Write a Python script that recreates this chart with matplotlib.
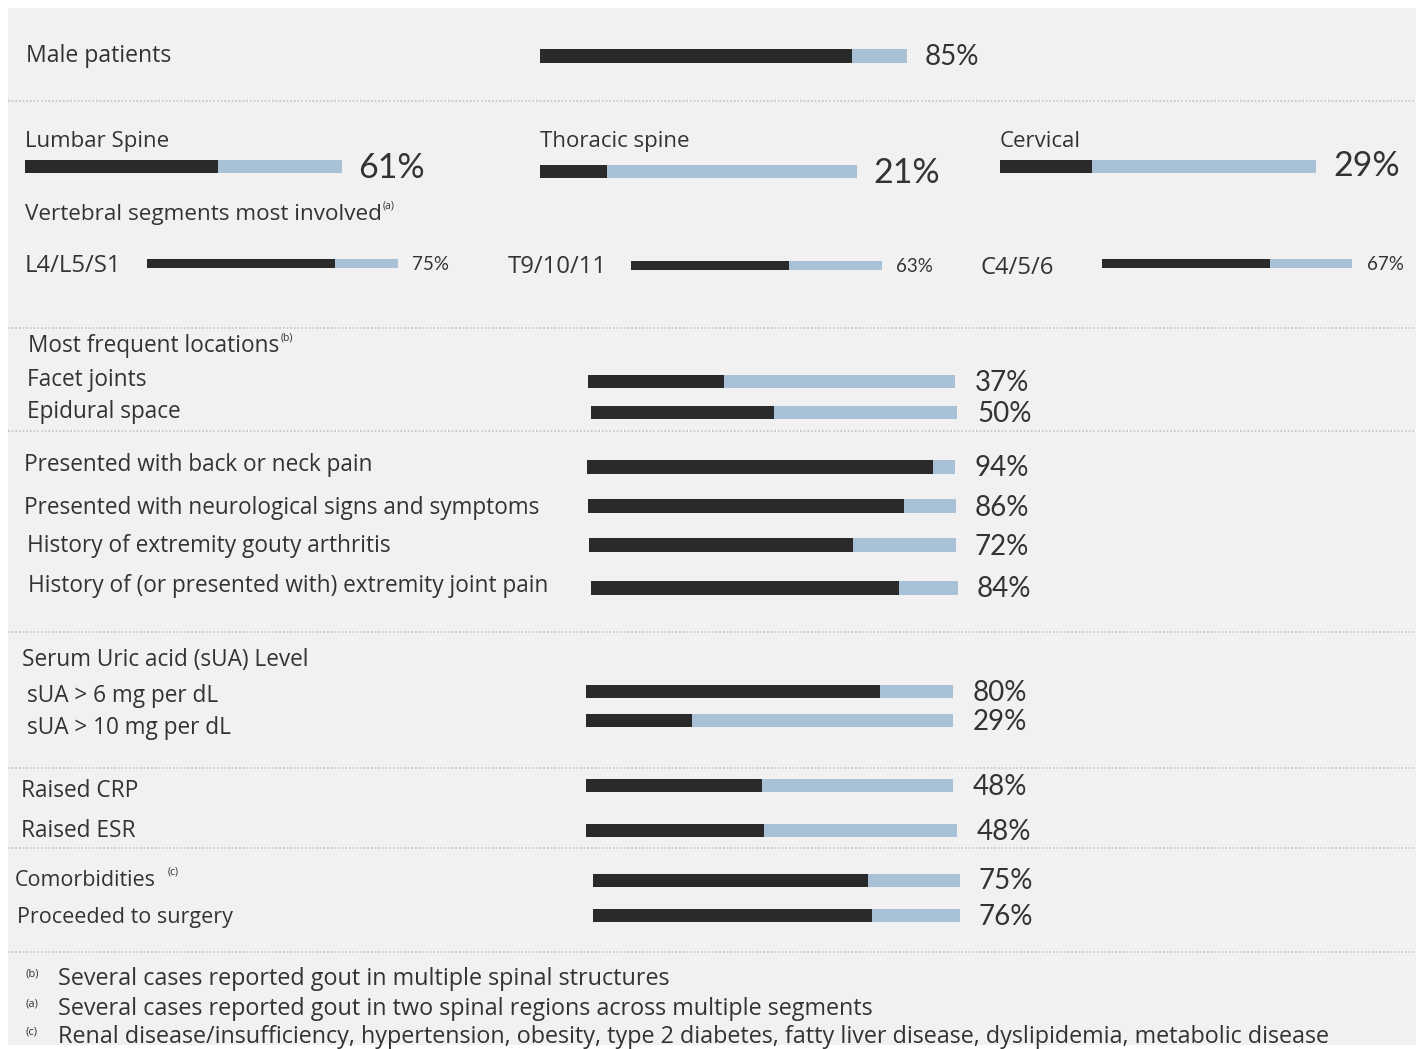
import matplotlib
matplotlib.use("Agg")
import matplotlib.pyplot as plt
from matplotlib.patches import Rectangle

plt.rcParams['font.family'] = ['Open Sans', 'DejaVu Sans']

# ---------------- data ----------------
male_label = "Male patients"
male_value = 85

region_labels = ["Lumbar Spine", "Thoracic spine", "Cervical"]
region_values = [61, 21, 29]

segment_title = "Vertebral segments most involved"
segment_labels = ["L4/L5/S1", "T9/10/11", "C4/5/6"]
segment_values = [75, 63, 67]

location_title = "Most frequent locations"
location_labels = ["Facet joints", "Epidural space"]
location_values = [37, 50]

presentation_labels = ["Presented with back or neck pain",
                       "Presented with neurological signs and symptoms",
                       "History of extremity gouty arthritis",
                       "History of (or presented with) extremity joint pain"]
presentation_values = [94, 86, 72, 84]

sua_title = "Serum Uric acid (sUA) Level"
sua_labels = ["sUA > 6 mg per dL", "sUA > 10 mg per dL"]
sua_values = [80, 29]

inflam_labels = ["Raised CRP", "Raised ESR"]
inflam_values = [48, 48]

outcome_labels = ["Comorbidities", "Proceeded to surgery"]
outcome_values = [75, 76]

footnote_marks = ["(b)", "(a)", "(c)"]
footnotes = ["Several cases reported gout in multiple spinal structures",
             "Several cases reported gout in two spinal regions across multiple segments",
             "Renal disease/insufficiency, hypertension, obesity, type 2 diabetes, fatty liver disease, dyslipidemia, metabolic disease"]

# ---------------- style ----------------
W, H = 1421, 1049
DARK = "#2a2a2a"
LIGHT = "#a8c1d6"
TXT = "#333333"
BG = "#f1f1f1"
SEP = "#c4c4c4"
NUMFONT = ['Lato', 'DejaVu Sans']

fig = plt.figure(figsize=(W / 100, H / 100), dpi=100, facecolor="white")
ax = fig.add_axes([0, 0, 1, 1])
ax.set_xlim(0, W)
ax.set_ylim(H, 0)
ax.axis("off")
ax.add_patch(Rectangle((8, 8), 1408, 1037, facecolor=BG, edgecolor="none", zorder=0))

fig.canvas.draw()
renderer = fig.canvas.get_renderer()


def bar(x0, x1, y, value, h):
    length = x1 - x0
    ax.barh([y], [length], left=[x0], height=h, color=LIGHT, zorder=2)
    ax.barh([y], [value / 100 * length], left=[x0], height=h, color=DARK, zorder=3)


def label(x, y, s, size, **kw):
    return ax.text(x, y, s, fontsize=size, color=TXT, va="baseline", ha="left", zorder=4, **kw)


def pct(x, y, v, size):
    return ax.text(x, y, f"{v}%", fontsize=size, color=TXT, va="baseline", ha="left",
                   zorder=4, family=NUMFONT)


def sup(t, s, dx=1, dy=-12, size=7.5):
    bb = t.get_window_extent(renderer=renderer)
    inv = ax.transData.inverted()
    (xr, _), = inv.transform([(bb.x1, bb.y0)])
    x, y = t.get_position()
    ax.text(xr + dx, y + dy, s, fontsize=size, color=TXT, va="baseline", ha="left", zorder=4)


def sep(y, x0=8, x1=1416):
    ax.plot([x0, x1], [y, y], color=SEP, lw=1.2, ls=(0, (1, 1.2)), zorder=1)


LBL = 16.3
PCT = 20

# Male patients
label(26, 62, male_label, 16.6)
bar(540, 907, 56, male_value, 14)
pct(925, 65, male_value, PCT)
sep(101)

# Regions
reg_lx = [25, 540, 1000]
reg_bar = [(25, 342, 166), (540, 857, 171), (1000, 1316, 166)]
reg_pct = [(358, 178), (873, 183), (1333, 176)]
for lab, v, lx, (b0, b1, by), (px, py) in zip(region_labels, region_values, reg_lx, reg_bar, reg_pct):
    label(lx, 147, lab, 16)
    bar(b0, b1, by, v, 13)
    pct(px, py, v, 24.5)

t = label(25, 220, segment_title, 16.2)
sup(t, "(a)")

seg_lx = [(25, 272), (508, 273), (981, 274)]
seg_bar = [(147, 398, 263), (631, 882, 265), (1102, 1352, 263)]
seg_pct = [(412, 270), (896, 272), (1367, 270)]
for lab, v, (lx, ly), (b0, b1, by), (px, py) in zip(segment_labels, segment_values, seg_lx, seg_bar, seg_pct):
    label(lx, ly, lab, 17.2)
    bar(b0, b1, by, v, 9)
    pct(px, py, v, 13.5)
sep(328, 8, 1416)

# Locations
t = label(28, 352, location_title, LBL)
sup(t, "(b)")
loc_y = [(386, 381, 391), (418, 412, 422)]
loc_bar = [(588, 955), (591, 957)]
for lab, v, (ly, by, py), (b0, b1) in zip(location_labels, location_values, loc_y, loc_bar):
    label(27, ly, lab, LBL)
    bar(b0, b1, by, v, 13)
    pct(b1 + 20, py, v, PCT)
sep(431)

# Presentation
pres_y = [(24, 471, 467, 476), (24, 514, 506, 516), (27, 552, 545, 555), (28, 592, 588, 597)]
pres_bar = [(587, 955), (588, 956), (589, 956), (591, 958)]
for lab, v, (lx, ly, by, py), (b0, b1) in zip(presentation_labels, presentation_values, pres_y, pres_bar):
    label(lx, ly, lab, LBL)
    bar(b0, b1, by, v, 14)
    pct(b1 + 19, py, v, PCT)
sep(632)

# sUA
label(22, 666, sua_title, LBL)
sua_y = [(702, 691, 701), (734, 720, 730)]
for lab, v, (ly, by, py) in zip(sua_labels, sua_values, sua_y):
    label(27, ly, lab, LBL)
    bar(586, 953, by, v, 13)
    pct(973, py, v, PCT)
sep(768)

# Inflammation
inf_y = [(797, 785, 795, 953), (837, 830, 840, 957)]
for lab, v, (ly, by, py, b1) in zip(inflam_labels, inflam_values, inf_y):
    label(21, ly, lab, LBL)
    bar(586, b1, by, v, 13)
    pct(b1 + 20, py, v, PCT)
sep(848)

# Outcomes
out_y = [(15, 886, 880, 889), (17, 923, 915, 925)]
for i, (lab, v, (lx, ly, by, py)) in enumerate(zip(outcome_labels, outcome_values, out_y)):
    t = label(lx, ly, lab, 15.5)
    if i == 0:
        sup(t, "(c)", dx=12)
    bar(593, 960, by, v, 13)
    pct(978, py, v, PCT)
sep(952)

# Footnotes
for mark, note, y in zip(footnote_marks, footnotes, [985, 1015, 1043]):
    ax.text(25, y - 9, mark, fontsize=8, color=TXT, va="baseline", ha="left")
    label(58, y, note, 16.8)

fig.savefig("out.png", dpi=100, facecolor=fig.get_facecolor())
